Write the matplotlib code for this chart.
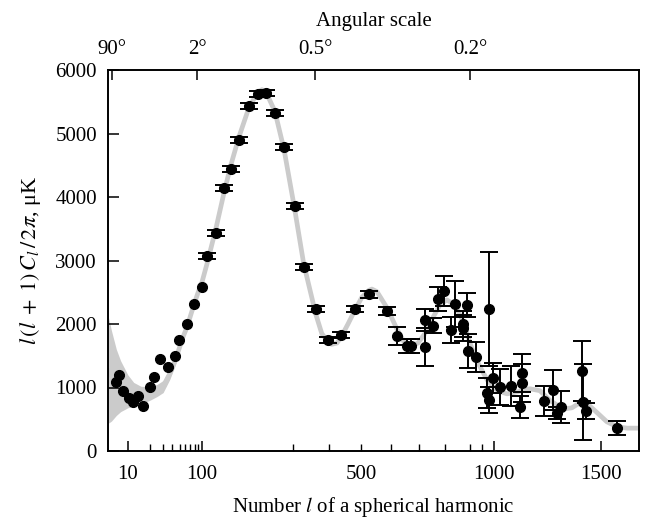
import numpy as np
import matplotlib
matplotlib.use('Agg')
import matplotlib.pyplot as plt
from matplotlib.ticker import NullLocator

plt.rcParams['font.family'] = ['Liberation Serif', 'DejaVu Serif']
plt.rcParams['mathtext.fontset'] = 'stix'
plt.rcParams['font.size'] = 15

# ---- theoretical curve ----
theory_l = [5.5, 6, 7, 8, 10, 12, 15, 20, 25, 30, 37, 43, 49, 55, 63, 78, 88, 100,
            109, 125, 140, 154, 171, 192, 212, 222, 231, 253, 276, 304, 328, 362,
            379, 397, 408, 424, 436, 458, 480, 502, 525, 535, 552, 587, 621, 646,
            671, 697, 723, 753, 780, 807, 839, 871, 900, 924, 971, 1013, 1057,
            1100, 1158, 1204, 1250, 1312, 1355, 1394, 1435, 1480, 1528, 1581,
            1632, 1694]
theory_D = [1270, 1185, 1080, 1020, 940, 895, 880, 905, 955, 1015, 1220, 1400, 1600,
            1780, 1950, 2300, 2480, 2650, 2950, 3500, 4050, 4500, 4950, 5400, 5650,
            5690, 5660, 5350, 4750, 3800, 2950, 2150, 1850, 1720, 1680, 1700, 1790,
            2000, 2220, 2420, 2530, 2550, 2510, 2250, 1920, 1720, 1650, 1700, 1850,
            2100, 2300, 2380, 2300, 2050, 1700, 1450, 1120, 950, 900, 930, 980, 950,
            800, 660, 680, 760, 730, 600, 460, 380, 360, 360]

# ---- cosmic-variance band at low l ----
band_l = [5.5, 6, 7, 8, 10, 12, 15, 20, 25, 30, 37, 43, 50]
band_lo = [440, 470, 560, 620, 680, 710, 740, 800, 860, 920, 1130, 1330, 1570]
band_hi = [2100, 1900, 1600, 1420, 1200, 1080, 1020, 1010, 1050, 1110, 1310, 1470, 1690]

# ---- measured points ----
data_l = [6.9, 7.6, 8.6, 10.3, 11.7, 13.6, 16.0, 19.8, 22.5, 27.1, 34.7, 43.2, 48.9,
          62.7, 78.0, 100, 109, 125, 140, 154, 171, 192, 212, 231, 253, 276, 304,
          328, 362, 397, 436, 480, 525, 587, 621, 657, 671, 723, 723, 753, 773,
          795, 823, 839, 871, 871, 887, 891, 924, 979, 971, 979, 996, 1026, 1074,
          1113, 1122, 1122, 1222, 1263, 1283, 1302, 1403, 1409, 1424, 1581]
data_D = [1080, 1200, 945, 835, 772, 866, 709, 1008, 1165, 1449, 1323, 1496, 1748,
          2000, 2315, 2583, 3071, 3433, 4142, 4441, 4898, 5433, 5622, 5638, 5323,
          4787, 3858, 2898, 2236, 1748, 1827, 2236, 2472, 2205, 1811, 1654, 1654,
          2063, 1638, 1969, 2394, 2520, 1906, 2315, 2000, 1937, 2299, 1580, 1480,
          2236, 913, 803, 1150, 1008, 1024, 693, 1228, 1071, 787, 961, 598, 693,
          1260, 772, 630, 362]
data_err = [0, 0, 0, 0, 0, 0, 0, 0, 0, 0, 0, 0, 0,
            0, 0, 0, 40, 40, 40, 40, 45, 50, 50, 50, 50,
            50, 50, 50, 50, 50, 50, 50, 55, 60, 140, 110, 110,
            170, 300, 118, 190, 236, 210, 362, 210, 210, 190, 270, 236,
            900, 230, 200, 230, 285, 315, 180, 300, 300, 230, 315, 100, 250,
            470, 600, 130, 110]

x_major = [10, 100, 1000, 1500]
x_minor = [20, 30, 40, 50, 60, 70, 80, 90, 300, 400, 500, 600, 700, 800, 900, 950]
x_minor_labels = ['' if v != 500 else '500' for v in x_minor]
top_ticks_l = [6.1, 86, 360, 900]
top_labels = ['90°', '2°', '0.5°', '0.2°']


def fwd(l):
    l = np.clip(np.asarray(l, dtype=float), 1e-6, None)
    return np.where(l <= 100, 74 * np.log10(l), 148 + 6.18 * (l ** 0.6 - 100 ** 0.6))


def inv(p):
    p = np.asarray(p, dtype=float)
    s = np.clip((p - 148) / 6.18 + 100 ** 0.6, 1e-6, None)
    return np.where(p <= 148, 10 ** (np.minimum(p, 148) / 74), s ** (1 / 0.6))


fig = plt.figure(figsize=(6.54, 5.2), dpi=100)
ax = fig.add_axes([108 / 654, 69 / 520, 531 / 654, 381 / 520])
ax.set_xscale('function', functions=(fwd, inv))
ax.set_xlim(5.4, 1694)
ax.set_ylim(0, 6000)

grey = '#cbcbcb'
ax.fill_between(band_l, band_lo, band_hi, color=grey, lw=0, zorder=1)
ax.plot(theory_l, theory_D, color=grey, lw=3.4, solid_capstyle='round', zorder=2)

dl = np.array(data_l)
dD = np.array(data_D)
de = np.array(data_err)
m = de > 0
ax.errorbar(dl[m], dD[m], yerr=de[m], fmt='o', color='black', ms=7,
            capsize=6.5, elinewidth=1.4, capthick=1.4, zorder=3)
ax.plot(dl[~m], dD[~m], 'o', color='black', ms=7, zorder=3)

ax.set_xticks(x_major, labels=[str(v) for v in x_major])
ax.set_xticks(x_minor, labels=x_minor_labels, minor=True)
ax.set_yticks(range(0, 6001, 1000))
ax.tick_params(axis='x', which='major', direction='in', length=7, width=1.1, pad=10,
               top=False, labelsize=15)
ax.tick_params(axis='x', which='minor', direction='in', length=5, width=1.0, pad=10,
               top=False, labelsize=15)
ax.tick_params(axis='y', direction='in', length=8, width=1.1, pad=8, right=False,
               labelsize=15)
for sp in ax.spines.values():
    sp.set_linewidth(1.2)

top = ax.twiny()
top.set_xscale('function', functions=(fwd, inv))
top.set_xlim(ax.get_xlim())
top.set_xticks(top_ticks_l, labels=top_labels)
top.xaxis.set_minor_locator(NullLocator())
top.tick_params(axis='x', which='major', direction='in', length=7, width=1.1, pad=8,
                labelsize=15, bottom=False)
for sp in top.spines.values():
    sp.set_linewidth(1.2)
top.set_xlabel('Angular scale', labelpad=10, fontsize=15)

ax.set_xlabel(r'Number $l$ of a spherical harmonic', labelpad=8, fontsize=15)
ax.set_ylabel(r'$l\,(l\;+\;1)\,C_l\,/\,2\pi$, μK', labelpad=9, fontsize=16)

fig.savefig('out.png', dpi=100)
